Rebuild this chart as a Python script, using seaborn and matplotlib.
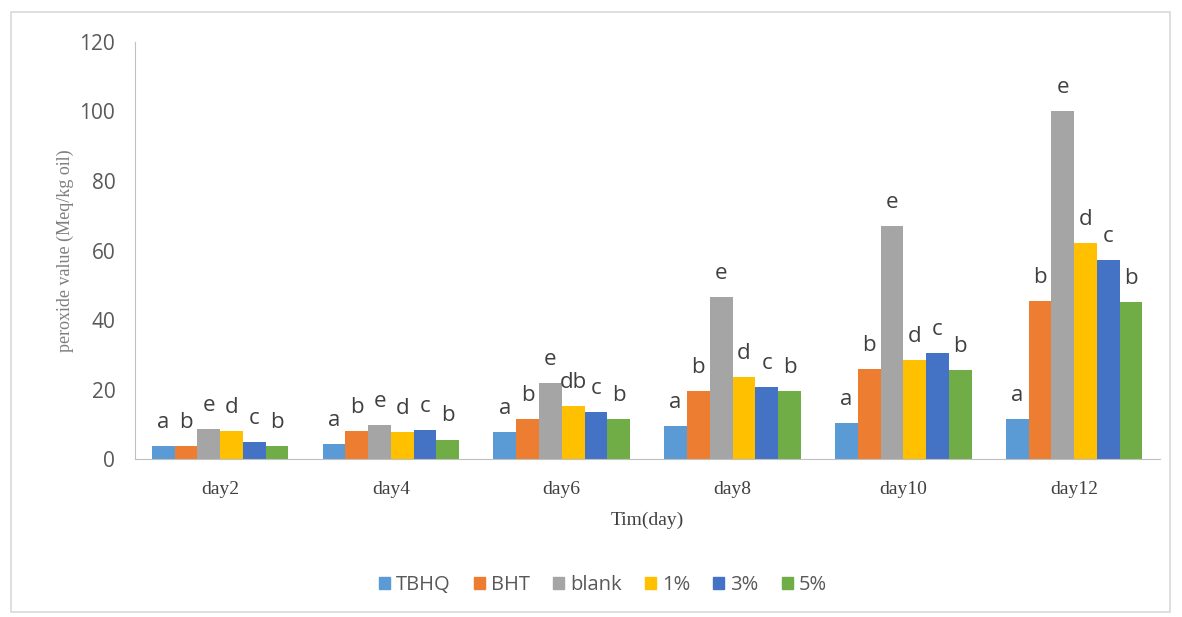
import numpy as np
import pandas as pd
import matplotlib
matplotlib.use("Agg")
import matplotlib.pyplot as plt
import seaborn as sns
from matplotlib.patches import Rectangle

# data
days = ["day2", "day4", "day6", "day8", "day10", "day12"]
groups = ["TBHQ", "BHT", "blank", "1%", "3%", "5%"]
tbhq = [3.8, 4.3, 7.8, 9.6, 10.3, 11.4]
bht = [3.8, 8.0, 11.5, 19.5, 26.0, 45.5]
blank = [8.6, 9.8, 21.8, 46.5, 67.0, 100.0]
p1 = [8.0, 7.8, 15.3, 23.6, 28.6, 62.2]
p3 = [5.0, 8.3, 13.6, 20.6, 30.6, 57.3]
p5 = [3.8, 5.6, 11.5, 19.5, 25.5, 45.2]
letters = [
    ["a", "b", "e", "d", "c", "b"],
    ["a", "b", "e", "d", "c", "b"],
    ["a", "b", "e", "db", "c", "b"],
    ["a", "b", "e", "d", "c", "b"],
    ["a", "b", "e", "d", "c", "b"],
    ["a", "b", "e", "d", "c", "b"],
]
colors = ["#5B9BD5", "#ED7D31", "#A5A5A5", "#FFC000", "#4472C4", "#70AD47"]

series = [tbhq, bht, blank, p1, p3, p5]
rows = []
for g, vals in zip(groups, series):
    for d, v in zip(days, vals):
        rows.append({"day": d, "group": g, "value": v})
df = pd.DataFrame(rows)

sns.set_style("white")
fig = plt.figure(figsize=(11.82, 6.17), dpi=100)
ax = fig.add_axes([0.114, 0.256, 0.867, 0.676])

sns.barplot(data=df, x="day", y="value", hue="group", order=days,
            hue_order=groups, palette=colors, width=0.8, gap=0,
            saturation=1, errorbar=None, linewidth=0, ax=ax)

# significance letters above each bar
for gi, cont in enumerate(ax.containers):
    for di, bar in enumerate(cont):
        ax.annotate(letters[di][gi],
                    (bar.get_x() + bar.get_width() / 2, bar.get_height()),
                    xytext=(0, 17), textcoords="offset points",
                    ha="center", va="center", fontsize=16,
                    family="Open Sans", color="#404040")

ax.set_ylim(0, 120)
ax.set_yticks(np.arange(0, 121, 20))
ax.set_xlim(-0.5, 5.5)
ax.tick_params(length=0)
for lab in ax.get_yticklabels():
    lab.set_family("Open Sans")
    lab.set_fontsize(15)
    lab.set_color("#595959")
for lab in ax.get_xticklabels():
    lab.set_family("Liberation Serif")
    lab.set_fontsize(14)
    lab.set_color("#404040")
ax.tick_params(axis="y", pad=14)
ax.tick_params(axis="x", pad=16)

ax.set_xlabel("Tim(day)", family="Liberation Serif", fontsize=14,
              color="#404040", labelpad=10)
ax.set_ylabel("peroxide value (Meq/kg oil)", family="Liberation Serif",
              fontsize=13, color="#7f7f7f", labelpad=4)

for s in ["top", "right"]:
    ax.spines[s].set_visible(False)
ax.spines["left"].set_color("#BFBFBF")
ax.spines["bottom"].set_color("#BFBFBF")

ax.get_legend().remove()
handles = [Rectangle((0, 0), 1, 1, color=c) for c in colors]
leg = fig.legend(handles, groups, loc="center", bbox_to_anchor=(0.51, 0.052),
                 ncol=6, frameon=False, handlelength=0.55, handleheight=0.55,
                 handletextpad=0.3, columnspacing=1.15,
                 prop={"family": "Open Sans", "size": 14.5})
for t in leg.get_texts():
    t.set_color("#595959")

# light frame round the chart area
fig.patches.append(Rectangle((0.009, 0.008), 0.981, 0.973,
                             transform=fig.transFigure, fill=False,
                             edgecolor="#D9D9D9", linewidth=1.2))

plt.savefig("out.png", dpi=100)
